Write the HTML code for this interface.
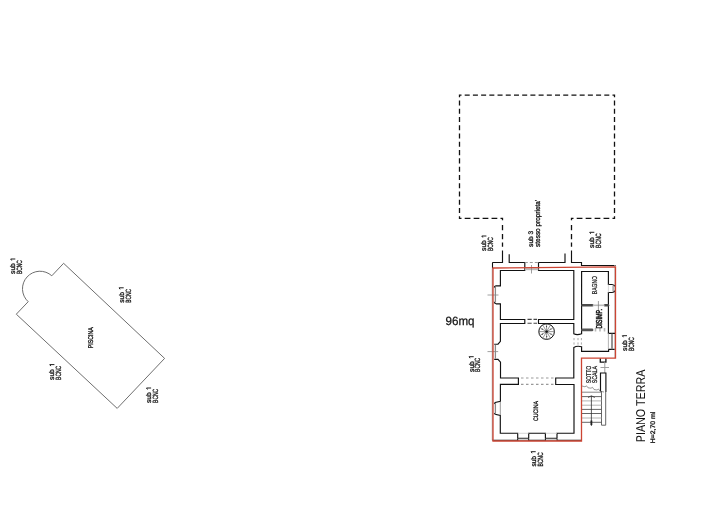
<!DOCTYPE html>
<html><head><meta charset="utf-8"><style>
html,body{margin:0;padding:0;background:#fff;}
svg{display:block;will-change:transform;} text{text-rendering:geometricPrecision;}
</style></head><body>
<svg width="705" height="520" viewBox="0 0 705 520" shape-rendering="auto">
<rect width="705" height="520" fill="#fff"/>
<path d="M459.50,213.10 L459.50,208.02 M459.50,204.82 L459.50,199.74 M459.50,196.54 L459.50,191.46 M459.50,188.26 L459.50,183.19 M459.50,179.99 L459.50,174.91 M459.50,171.71 L459.50,166.63 M459.50,163.43 L459.50,158.35 M459.50,155.15 L459.50,150.07 M459.50,146.87 L459.50,141.79 M459.50,138.59 L459.50,133.51 M459.50,130.31 L459.50,125.24 M459.50,122.04 L459.50,116.96 M459.50,113.76 L459.50,108.68 M459.50,105.48 L459.50,100.40 M464.70,95.20 L469.71,95.20 M472.91,95.20 L477.92,95.20 M481.12,95.20 L486.13,95.20 M489.33,95.20 L494.34,95.20 M497.54,95.20 L502.56,95.20 M505.76,95.20 L510.77,95.20 M513.97,95.20 L518.98,95.20 M522.18,95.20 L527.19,95.20 M530.39,95.20 L535.40,95.20 M538.60,95.20 L543.61,95.20 M546.81,95.20 L551.82,95.20 M555.02,95.20 L560.03,95.20 M563.23,95.20 L568.24,95.20 M571.44,95.20 L576.46,95.20 M579.66,95.20 L584.67,95.20 M587.87,95.20 L592.88,95.20 M596.08,95.20 L601.09,95.20 M604.29,95.20 L609.30,95.20 M614.50,100.40 L614.50,105.48 M614.50,108.68 L614.50,113.76 M614.50,116.96 L614.50,122.04 M614.50,125.24 L614.50,130.31 M614.50,133.51 L614.50,138.59 M614.50,141.79 L614.50,146.87 M614.50,150.07 L614.50,155.15 M614.50,158.35 L614.50,163.43 M614.50,166.63 L614.50,171.71 M614.50,174.91 L614.50,179.99 M614.50,183.19 L614.50,188.26 M614.50,191.46 L614.50,196.54 M614.50,199.74 L614.50,204.82 M614.50,208.02 L614.50,213.10 M464.70,218.30 L470.45,218.30 M473.65,218.30 L479.40,218.30 M482.60,218.30 L488.35,218.30 M491.55,218.30 L497.30,218.30 M576.70,218.30 L582.45,218.30 M585.65,218.30 L591.40,218.30 M594.60,218.30 L600.35,218.30 M603.55,218.30 L609.30,218.30 M461.5,218.3 H459.5 V216.3 M459.5,97.2 V95.2 H461.5 M612.5,95.2 H614.5 V97.2 M614.5,216.3 V218.3 H612.5 M500.5,218.3 H502.5 V220.3 M573.5,218.3 H571.5 V220.3 M502.5,225.1 V230.3 M502.5,234.0 V239.2 M502.5,242.4 V246.8 M571.5,225.1 V230.3 M571.5,234.0 V239.2 M571.5,242.4 V246.8" fill="none" stroke="#111" stroke-width="1.3" stroke-linecap="butt"/>
<path d="M502.5,250.4 V262.5 H492.4" fill="none" stroke="#111" stroke-width="1.15" />
<path d="M571.5,250.4 V262.5 H581.5 V265.5 H615.6" fill="none" stroke="#111" stroke-width="1.15" />
<path d="M492.5,262.5 V268.5" fill="none" stroke="#111" stroke-width="1.1" />
<path d="M492.3,268.5 V440.3" fill="none" stroke="#777" stroke-width="0.7" />
<path d="M492.5,440.3 H581.5" fill="none" stroke="#111" stroke-width="1.1" />
<path d="M614.6,265 V358.2" fill="none" stroke="#bbb" stroke-width="0.7" />
<path d="M509.2,254.2 V262.5 H524.8 V270.5 H500.4 V285.8 H496 Q494.4,286 494.2,287.6" fill="none" stroke="#111" stroke-width="1.15" />
<path d="M538.5,262.5 H565 V253.5" fill="none" stroke="#111" stroke-width="1.15" />
<path d="M538.5,262.5 V270.5 H573.8 V319.5 H538.5 V323.5 H573.8 V333.8 Q577,335.5 581.6,333.8 V271.5 H608.4 V284.5 H612 Q614.2,284.7 614.8,286.2 M614.8,290.8 Q614.2,292.3 612,292.5 H608.4 V333.3 H615" fill="none" stroke="#111" stroke-width="1.15" />
<path d="M494.2,301.8 Q494.4,303.6 496,303.8 H500.4 V319.5 H524.8 V323.5 H500.4 V341.3 L498,344.2 H494.2" fill="none" stroke="#111" stroke-width="1.15" />
<path d="M494.2,359.4 H498 L500.5,362.2 V378.0 H518.4 V384.4 H500.4 V401.3 L495.2,402.5 L494.2,403.8" fill="none" stroke="#111" stroke-width="1.15" />
<path d="M494.2,413.2 L495.2,414.3 L500.3,415.4 V433.2 H517.7 V438.3 M528.7,438.3 V433.2 H545.4 V438.3 M557,438.3 V433.2 H574 V384.5 H555.7 V378.0 H573.8 V347.5 Q577,345.5 581.6,346.8 V351.3 H608.6 V349.3 H614.6" fill="none" stroke="#111" stroke-width="1.15" />
<path d="M495.4,287 V302.6" fill="none" stroke="#8a8a8a" stroke-width="1.3" />
<path d="M495.4,344.8 V358.8" fill="none" stroke="#8a8a8a" stroke-width="1.3" />
<path d="M495.4,403 V414.2" fill="none" stroke="#8a8a8a" stroke-width="1.3" />
<path d="M517.7,438.3 H528.7 M545.4,438.3 H557" fill="none" stroke="#222" stroke-width="1.1" />
<path d="M517.7,433.3 H528.7 M545.4,433.3 H557" fill="none" stroke="#ccc" stroke-width="0.8" />
<path d="M500.3,401.8 V415" fill="none" stroke="#999" stroke-width="1.0" />
<path d="M517.7,438.3 V440.5 M528.7,438.3 V440.5 M545.4,438.3 V440.5 M557,438.3 V440.5" fill="none" stroke="#111" stroke-width="1.0" />
<path d="M518.5,440 H528 M546,440 H556.5" fill="none" stroke="#ddd" stroke-width="1.2" />
<path d="M524.8,269.2 H538.5" fill="none" stroke="#bbb" stroke-width="2.0" />
<path d="M524.8,262.5 H538.5" fill="none" stroke="#999" stroke-width="1.2" stroke-dasharray="3 2"/>
<path d="M527.5,319.4 H537 M527.5,323.3 H537" fill="none" stroke="#444" stroke-width="1.1" stroke-dasharray="4.2 1.8"/>
<path d="M521,378.0 H554 M521,384.3 H554" fill="none" stroke="#999" stroke-width="1.2" stroke-dasharray="2.5 2.5"/>
<path d="M574,338 V346 M578,338 V346 M581.4,338 V346" fill="none" stroke="#aaa" stroke-width="1.0" stroke-dasharray="2.2 2.2"/>
<path d="M612,333.8 V349.2" fill="none" stroke="#8a8a8a" stroke-width="1.8" />
<path d="M608.4,333.3 V349.3" fill="none" stroke="#aaa" stroke-width="0.9" />
<path d="M613.1,286 V291" fill="none" stroke="#999" stroke-width="1.3" />
<path d="M608.4,284.5 V292.5" fill="none" stroke="#ccc" stroke-width="0.8" />
<path d="M582.5,305.3 H592.3" fill="none" stroke="#4a4a4a" stroke-width="2.6" stroke-linecap="round"/>
<path d="M605,305.3 H608" fill="none" stroke="#4a4a4a" stroke-width="2.6" stroke-linecap="round"/>
<path d="M592.8,305.3 H604.5" fill="none" stroke="#bbb" stroke-width="1.6" />
<path d="M582.5,329.9 H592" fill="none" stroke="#555" stroke-width="2.8" stroke-linecap="round"/>
<path d="M594.7,329.8 H608" fill="none" stroke="#b8b8b8" stroke-width="3.5" stroke-dasharray="1.6 2.9"/>
<line x1="598.4" y1="301" x2="598.4" y2="318" stroke="#777" stroke-width="0.7" />
<line x1="487.5" y1="295" x2="498.5" y2="295" stroke="#888" stroke-width="0.8" />
<line x1="487.5" y1="351.6" x2="498.2" y2="351.6" stroke="#888" stroke-width="0.8" />
<line x1="531.5" y1="265" x2="531.5" y2="273.5" stroke="#888" stroke-width="0.8" />
<line x1="600.5" y1="367.5" x2="609" y2="367.5" stroke="#888" stroke-width="0.8" />
<path d="M600.3,358.2 V362.1 H605.9 V358.2" fill="none" stroke="#111" stroke-width="1.3" />
<line x1="604.8" y1="362" x2="604.8" y2="373" stroke="#9a9a9a" stroke-width="1.0" />
<path d="M600.5,391.6 V373 H605.9 V392" fill="none" stroke="#111" stroke-width="1.15" />
<path d="M601.5,391 V425.2 H605.7 V392" fill="none" stroke="#555" stroke-width="0.9" />
<line x1="582" y1="392.2" x2="601.5" y2="392.2" stroke="#777" stroke-width="0.9" />
<line x1="582" y1="396.6" x2="601.5" y2="396.6" stroke="#555" stroke-width="0.9" />
<line x1="582" y1="400.9" x2="601.5" y2="400.9" stroke="#aaa" stroke-width="0.9" />
<line x1="582" y1="405.2" x2="601.5" y2="405.2" stroke="#aaa" stroke-width="0.9" />
<line x1="582" y1="409.4" x2="601.5" y2="409.4" stroke="#555" stroke-width="0.9" />
<line x1="582" y1="413.5" x2="601.5" y2="413.5" stroke="#555" stroke-width="0.9" />
<line x1="582" y1="418" x2="601.5" y2="418" stroke="#aaa" stroke-width="0.9" />
<line x1="582" y1="422.3" x2="601.5" y2="422.3" stroke="#555" stroke-width="0.9" />
<path d="M582,386 L585,386.8 L586.5,385.8 L588,387.8 L591,388.2 L592.5,387.3 L594,389.5 L597,390 L598.5,389 L600,391.2 L604,392" fill="none" stroke="#555" stroke-width="0.6" />
<line x1="591.4" y1="396" x2="591.4" y2="426" stroke="#333" stroke-width="0.8" />
<path d="M588,397.5 L591.4,395.8 L594.8,397.5" fill="none" stroke="#333" stroke-width="0.8" />
<path d="M591.4,420.5 L591.4,425" fill="none" stroke="#222" stroke-width="1.8" />
<circle cx="546.6" cy="331.6" r="7.8" fill="none" stroke="#111" stroke-width="1.0"/>
<line x1="546.6" y1="331.6" x2="554.2" y2="331.6" stroke="#333" stroke-width="0.5" />
<line x1="546.6" y1="331.6" x2="553.18" y2="335.4" stroke="#333" stroke-width="0.5" />
<line x1="546.6" y1="331.6" x2="550.4" y2="338.18" stroke="#333" stroke-width="0.5" />
<line x1="546.6" y1="331.6" x2="546.6" y2="339.2" stroke="#333" stroke-width="0.5" />
<line x1="546.6" y1="331.6" x2="542.8" y2="338.18" stroke="#333" stroke-width="0.5" />
<line x1="546.6" y1="331.6" x2="540.02" y2="335.4" stroke="#333" stroke-width="0.5" />
<line x1="546.6" y1="331.6" x2="539.0" y2="331.6" stroke="#333" stroke-width="0.5" />
<line x1="546.6" y1="331.6" x2="540.02" y2="327.8" stroke="#333" stroke-width="0.5" />
<line x1="546.6" y1="331.6" x2="542.8" y2="325.02" stroke="#333" stroke-width="0.5" />
<line x1="546.6" y1="331.6" x2="546.6" y2="324.0" stroke="#333" stroke-width="0.5" />
<line x1="546.6" y1="331.6" x2="550.4" y2="325.02" stroke="#333" stroke-width="0.5" />
<line x1="546.6" y1="331.6" x2="553.18" y2="327.8" stroke="#333" stroke-width="0.5" />
<circle cx="550.99" cy="334.00" r="0.6" fill="#333"/>
<circle cx="546.72" cy="336.60" r="0.6" fill="#333"/>
<circle cx="542.33" cy="334.20" r="0.6" fill="#333"/>
<circle cx="542.21" cy="329.20" r="0.6" fill="#333"/>
<circle cx="546.48" cy="326.60" r="0.6" fill="#333"/>
<circle cx="550.87" cy="329.00" r="0.6" fill="#333"/>
<circle cx="546.6" cy="331.6" r="1.2" fill="#111"/>
<path d="M493.0,441.0 V268.0 L615.5,266.8 V358.2 H581.5 V441.0 Z" fill="none" stroke="#cc4433" stroke-width="1.3" stroke-linejoin="miter"/>
<path d="M63.6,263.3 L164.6,358.4 L117.2,408.4 L16.3,314.2 L28.2,301.7 A17.5,17.5 0 1 1 51.8,275.8 Z" fill="none" stroke="#666" stroke-width="0.95" />
<g font-family="Liberation Sans, sans-serif">
<text x="486.5" y="250.9" transform="rotate(-90 486.5 250.9)" font-size="6.8" font-weight="normal" fill="#111" stroke="#111" stroke-width="0.3" textLength="10.6" lengthAdjust="spacingAndGlyphs">sub</text>
<path d="M486.40,236.00 H481.80 L482.80,237.50" fill="none" stroke="#111" stroke-width="0.95"/>
<text x="493.2" y="250.9" transform="rotate(-90 493.2 250.9)" font-size="7.6" font-weight="normal" fill="#111" stroke="#111" stroke-width="0.3" textLength="13.8" lengthAdjust="spacingAndGlyphs">BCNC</text>
<text x="533.2" y="246.9" transform="rotate(-90 533.2 246.9)" font-size="6.6" font-weight="normal" fill="#111" stroke="#111" stroke-width="0.3" textLength="16.1" lengthAdjust="spacingAndGlyphs">sub 3</text>
<text x="539.7" y="246.9" transform="rotate(-90 539.7 246.9)" font-size="7.2" font-weight="normal" fill="#111" stroke="#111" stroke-width="0.3" textLength="47" lengthAdjust="spacingAndGlyphs">stesso proprieta'</text>
<text x="594.4" y="247.9" transform="rotate(-90 594.4 247.9)" font-size="6.8" font-weight="normal" fill="#111" stroke="#111" stroke-width="0.3" textLength="10.6" lengthAdjust="spacingAndGlyphs">sub</text>
<path d="M594.30,232.30 H589.70 L590.70,233.80" fill="none" stroke="#111" stroke-width="0.95"/>
<text x="601.2" y="247.9" transform="rotate(-90 601.2 247.9)" font-size="7.6" font-weight="normal" fill="#111" stroke="#111" stroke-width="0.3" textLength="14.5" lengthAdjust="spacingAndGlyphs">BCNC</text>
<text x="627.1" y="350.9" transform="rotate(-90 627.1 350.9)" font-size="6.8" font-weight="normal" fill="#111" stroke="#111" stroke-width="0.3" textLength="10.6" lengthAdjust="spacingAndGlyphs">sub</text>
<path d="M627.00,335.70 H622.40 L623.40,337.20" fill="none" stroke="#111" stroke-width="0.95"/>
<text x="633.8" y="350.9" transform="rotate(-90 633.8 350.9)" font-size="7.6" font-weight="normal" fill="#111" stroke="#111" stroke-width="0.3" textLength="13.8" lengthAdjust="spacingAndGlyphs">BCNC</text>
<text x="473.8" y="371.9" transform="rotate(-90 473.8 371.9)" font-size="6.8" font-weight="normal" fill="#111" stroke="#111" stroke-width="0.3" textLength="10.6" lengthAdjust="spacingAndGlyphs">sub</text>
<path d="M473.70,356.70 H469.10 L470.10,358.20" fill="none" stroke="#111" stroke-width="0.95"/>
<text x="480.2" y="371.9" transform="rotate(-90 480.2 371.9)" font-size="7.6" font-weight="normal" fill="#111" stroke="#111" stroke-width="0.3" textLength="14.1" lengthAdjust="spacingAndGlyphs">BCNC</text>
<text x="535.8" y="466.6" transform="rotate(-90 535.8 466.6)" font-size="6.8" font-weight="normal" fill="#111" stroke="#111" stroke-width="0.3" textLength="10.6" lengthAdjust="spacingAndGlyphs">sub</text>
<path d="M535.70,451.70 H531.10 L532.10,453.20" fill="none" stroke="#111" stroke-width="0.95"/>
<text x="542.8" y="466.6" transform="rotate(-90 542.8 466.6)" font-size="7.6" font-weight="normal" fill="#111" stroke="#111" stroke-width="0.3" textLength="14.2" lengthAdjust="spacingAndGlyphs">BCNC</text>
<text x="596.9" y="294.2" transform="rotate(-90 596.9 294.2)" font-size="7.2" font-weight="normal" fill="#111" stroke="#111" stroke-width="0.2" textLength="18.2" lengthAdjust="spacingAndGlyphs">BAGNO</text>
<text x="601.8" y="328.6" transform="rotate(-90 601.8 328.6)" font-size="8.6" font-weight="normal" fill="#111" stroke="#111" stroke-width="0.5" textLength="19.5" lengthAdjust="spacingAndGlyphs">DISIMP.</text>
<text x="538.1" y="421" transform="rotate(-90 538.1 421)" font-size="6.5" font-weight="normal" fill="#111" stroke="#111" stroke-width="0.3" textLength="20" lengthAdjust="spacingAndGlyphs">CUCINA</text>
<text x="591.1" y="383.3" transform="rotate(-90 591.1 383.3)" font-size="6.8" font-weight="normal" fill="#111" stroke="#111" stroke-width="0.25" textLength="17.6" lengthAdjust="spacingAndGlyphs">SOTTO</text>
<text x="597.1" y="383.3" transform="rotate(-90 597.1 383.3)" font-size="6.8" font-weight="normal" fill="#111" stroke="#111" stroke-width="0.25" textLength="17.3" lengthAdjust="spacingAndGlyphs">SCALA</text>
<text x="93.2" y="348.2" transform="rotate(-90 93.2 348.2)" font-size="7" font-weight="normal" fill="#111" stroke="#111" stroke-width="0.35" textLength="20.9" lengthAdjust="spacingAndGlyphs">PISCINA</text>
<text x="15.4" y="273.9" transform="rotate(-90 15.4 273.9)" font-size="6.8" font-weight="normal" fill="#111" stroke="#111" stroke-width="0.3" textLength="10.6" lengthAdjust="spacingAndGlyphs">sub</text>
<path d="M15.30,259.00 H10.70 L11.70,260.50" fill="none" stroke="#111" stroke-width="0.95"/>
<text x="22.2" y="273.9" transform="rotate(-90 22.2 273.9)" font-size="7.6" font-weight="normal" fill="#111" stroke="#111" stroke-width="0.3" textLength="13.8" lengthAdjust="spacingAndGlyphs">BCNC</text>
<text x="123.8" y="302.8" transform="rotate(-90 123.8 302.8)" font-size="6.8" font-weight="normal" fill="#111" stroke="#111" stroke-width="0.3" textLength="10.6" lengthAdjust="spacingAndGlyphs">sub</text>
<path d="M123.70,287.80 H119.10 L120.10,289.30" fill="none" stroke="#111" stroke-width="0.95"/>
<text x="130.8" y="302.8" transform="rotate(-90 130.8 302.8)" font-size="7.6" font-weight="normal" fill="#111" stroke="#111" stroke-width="0.3" textLength="13.9" lengthAdjust="spacingAndGlyphs">BCNC</text>
<text x="54.5" y="379.9" transform="rotate(-90 54.5 379.9)" font-size="6.8" font-weight="normal" fill="#111" stroke="#111" stroke-width="0.3" textLength="10.6" lengthAdjust="spacingAndGlyphs">sub</text>
<path d="M54.40,364.60 H49.80 L50.80,366.10" fill="none" stroke="#111" stroke-width="0.95"/>
<text x="61.2" y="379.9" transform="rotate(-90 61.2 379.9)" font-size="7.6" font-weight="normal" fill="#111" stroke="#111" stroke-width="0.3" textLength="14.1" lengthAdjust="spacingAndGlyphs">BCNC</text>
<text x="151.2" y="402.9" transform="rotate(-90 151.2 402.9)" font-size="6.8" font-weight="normal" fill="#111" stroke="#111" stroke-width="0.3" textLength="10.6" lengthAdjust="spacingAndGlyphs">sub</text>
<path d="M151.10,388.00 H146.50 L147.50,389.50" fill="none" stroke="#111" stroke-width="0.95"/>
<text x="158.2" y="402.9" transform="rotate(-90 158.2 402.9)" font-size="7.6" font-weight="normal" fill="#111" stroke="#111" stroke-width="0.3" textLength="14.1" lengthAdjust="spacingAndGlyphs">BCNC</text>
<text x="445.5" y="324.7" font-size="12" fill="#111" stroke="#111" stroke-width="0.25" textLength="29" lengthAdjust="spacingAndGlyphs">96mq</text>
<text x="645.4" y="442.2" transform="rotate(-90 645.4 442.2)" font-size="12.8" font-weight="normal" fill="#111" textLength="72.6" lengthAdjust="spacingAndGlyphs">PIANO TERRA</text>
<text x="654.6" y="443.2" transform="rotate(-90 654.6 443.2)" font-size="6.5" font-weight="normal" fill="#111" stroke="#111" stroke-width="0.3" textLength="31.5" lengthAdjust="spacingAndGlyphs">H=2,70 ml</text>
</g>
</svg>
</body></html>
